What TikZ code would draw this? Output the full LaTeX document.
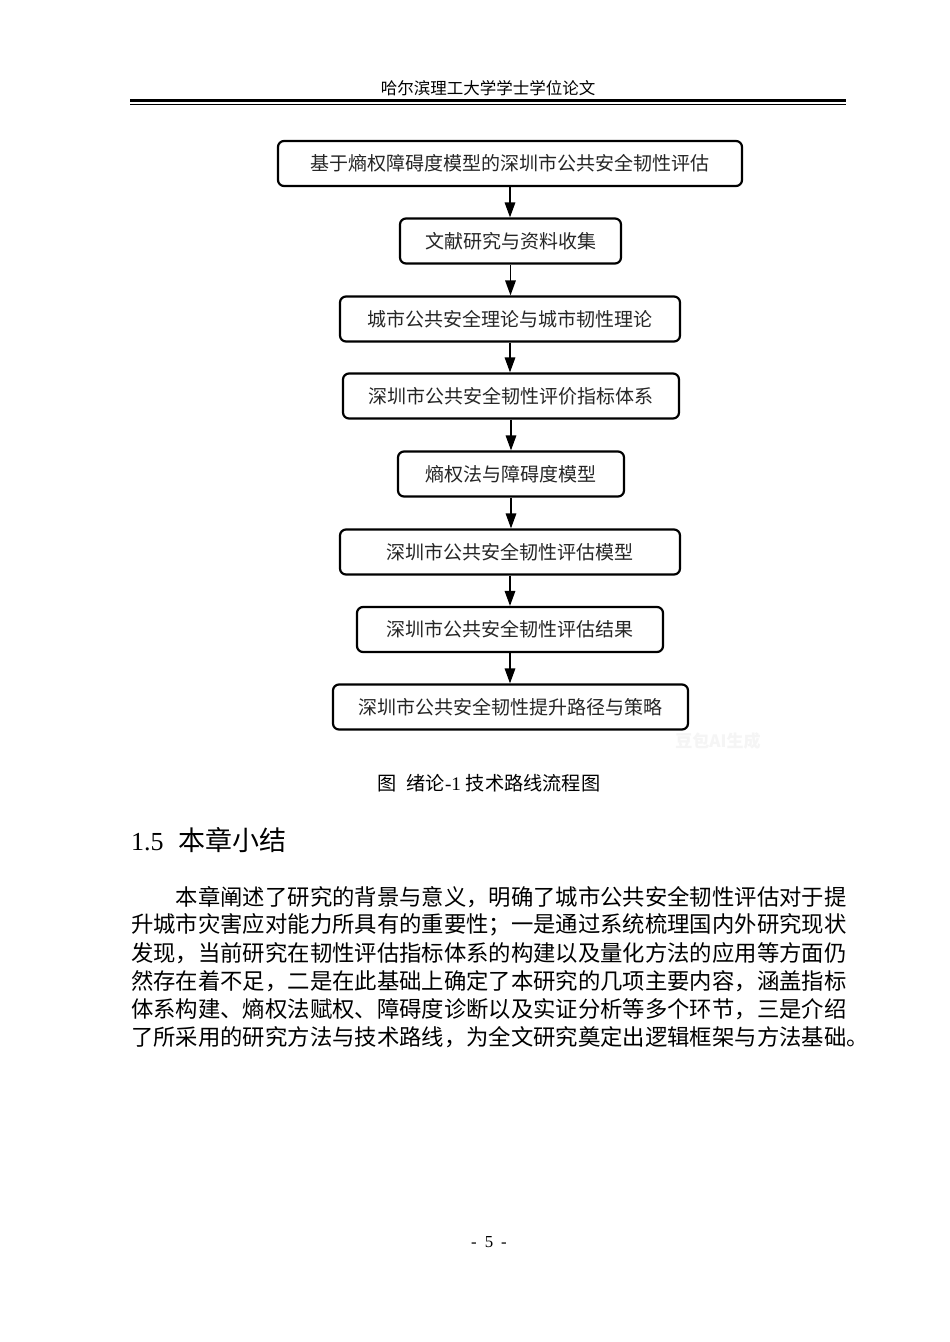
\documentclass[tikz,border=0pt]{standalone}
\usepackage{fontspec}
\setmainfont{Liberation Serif}
\newfontfamily\cjk{Noto Sans CJK SC}
\usetikzlibrary{arrows.meta}
\begin{document}
\begin{tikzpicture}[x=1pt,y=-1pt,
  box/.style={draw,line width=2.2pt,rounded corners=6pt,minimum height=45pt,inner sep=0pt,
    font=\cjk\fontsize{19}{19}\selectfont,text=black!85},
  conn/.style={line width=1.6pt,-{Triangle[length=15pt,width=10.5pt]}},
  bodyline/.style={anchor=west,inner sep=0pt,font=\cjk\fontsize{22.35}{22.35}\selectfont},
  rulethick/.style={line width=3pt},
  rulethin/.style={line width=1.2pt}]
\useasboundingbox (0,0) rectangle (950,1342);
\fill[white] (0,0) rectangle (950,1342);
% header
\node[font=\cjk\fontsize{16.5}{16.5}\selectfont] (hdr) at (488,88) {哈尔滨理工大学学士学位论文};
\coordinate (r1l) at (130,100.5); \coordinate (r1r) at (846,100.5);
\coordinate (r2l) at (130,104.6); \coordinate (r2r) at (846,104.6);
\draw[rulethick] (r1l) -- (r1r);
\draw[rulethin] (r2l) -- (r2r);
% flowchart
\node[box,minimum width=464pt] (b1) at (510,163.5) {基于熵权障碍度模型的深圳市公共安全韧性评估};
\node[box,minimum width=221pt] (b2) at (510.5,241) {文献研究与资料收集};
\node[box,minimum width=340pt] (b3) at (510,319) {城市公共安全理论与城市韧性理论};
\node[box,minimum width=336pt] (b4) at (511,396) {深圳市公共安全韧性评价指标体系};
\node[box,minimum width=226pt] (b5) at (511,474) {熵权法与障碍度模型};
\node[box,minimum width=340pt] (b6) at (510,552) {深圳市公共安全韧性评估模型};
\node[box,minimum width=306pt] (b7) at (510,629.5) {深圳市公共安全韧性评估结果};
\node[box,minimum width=355pt] (b8) at (510.5,707) {深圳市公共安全韧性提升路径与策略};
\draw[conn] (b1.south) -- (b1.south |- b2.north);
\draw[conn] (b2.south) -- (b2.south |- b3.north);
\draw[conn] (b3.south) -- (b3.south |- b4.north);
\draw[conn] (b4.south) -- (b4.south |- b5.north);
\draw[conn] (b5.south) -- (b5.south |- b6.north);
\draw[conn] (b6.south) -- (b6.south |- b7.north);
\draw[conn] (b7.south) -- (b7.south |- b8.north);
\node[text=black!4,font=\cjk\bfseries\fontsize{17}{17}\selectfont] (wm) at (718,741) {豆包AI生成};
% caption
\node[font=\fontsize{19.2}{19.2}\selectfont] (cap) at (489,783) {{\cjk 图}\ \ {\cjk 绪论}-1\ {\cjk 技术路线流程图}};
% section title
\node[anchor=west,inner sep=0pt,font=\fontsize{26}{26}\selectfont] (sec) at (131,840) {1.5\hspace{15pt}{\cjk\fontsize{27}{27}\selectfont 本章小结}};
% paragraph
\node[bodyline] (p1) at (175.7,897) {本章阐述了研究的背景与意义，明确了城市公共安全韧性评估对于提};
\node[bodyline] (p2) at (131,925) {升城市灾害应对能力所具有的重要性；一是通过系统梳理国内外研究现状};
\node[bodyline] (p3) at (131,953) {发现，当前研究在韧性评估指标体系的构建以及量化方法的应用等方面仍};
\node[bodyline] (p4) at (131,981) {然存在着不足，二是在此基础上确定了本研究的几项主要内容，涵盖指标};
\node[bodyline] (p5) at (131,1009) {体系构建、熵权法赋权、障碍度诊断以及实证分析等多个环节，三是介绍};
\node[bodyline] (p6) at (131,1037) {了所采用的研究方法与技术路线，为全文研究奠定出逻辑框架与方法基础。};
% page number
\node[font=\fontsize{16.8}{16.8}\selectfont] (pg) at (489,1242) {-\hspace{8pt}5\hspace{8pt}-};
\end{tikzpicture}
\end{document}
